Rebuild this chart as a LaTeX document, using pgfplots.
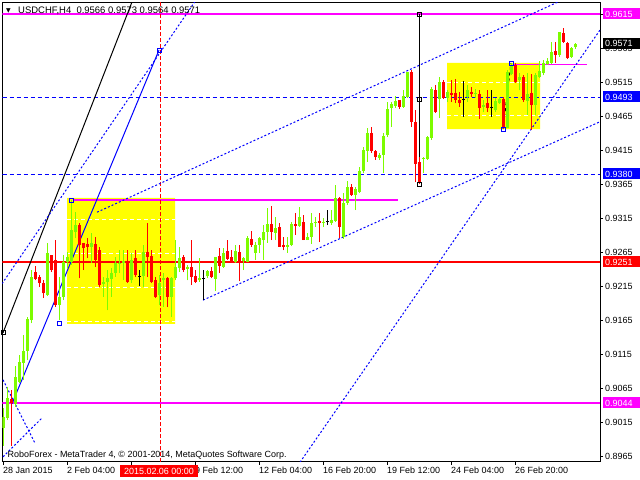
\documentclass[border=0pt]{standalone}
\usepackage{fontspec}
\setmainfont{Liberation Sans}
\newfontfamily\dejavu{DejaVu Sans}
\usepackage{pgfplots}
\usepackage{pgfplotstable}
\pgfplotsset{compat=1.18}
\definecolor{bull}{RGB}{124,252,0}
\definecolor{bear}{RGB}{255,0,0}
\definecolor{mag}{RGB}{255,0,255}
\definecolor{mtblue}{RGB}{0,0,255}
\definecolor{yel}{RGB}{255,255,0}

\pgfplotstableread{
n o h l c
0 0.9007 0.9037 0.8981 0.9023
1 0.9022 0.9067 0.9019 0.9051
3 0.9043 0.9098 0.9038 0.9082
4 0.9075 0.9115 0.9073 0.9104
5 0.9103 0.9144 0.9078 0.9120
6 0.9120 0.9170 0.9107 0.9167
7 0.9166 0.9239 0.9161 0.9229
11 0.9202 0.9279 0.9201 0.9264
14 0.9188 0.9229 0.9166 0.9200
15 0.9200 0.9261 0.9195 0.9251
16 0.9251 0.9266 0.9242 0.9258
17 0.9251 0.9342 0.9247 0.9298
18 0.9295 0.9324 0.9286 0.9305
22 0.9273 0.9294 0.9250 0.9279
25 0.9219 0.9229 0.9200 0.9222
26 0.9222 0.9239 0.9180 0.9227
27 0.9226 0.9242 0.9200 0.9235
28 0.9235 0.9258 0.9229 0.9250
29 0.9248 0.9268 0.9235 0.9250
30 0.9250 0.9268 0.9224 0.9252
32 0.9224 0.9264 0.9220 0.9254
35 0.9230 0.9276 0.9214 0.9266
39 0.9202 0.9232 0.9188 0.9220
40 0.9224 0.9235 0.9185 0.9227
42 0.9200 0.9229 0.9170 0.9227
43 0.9227 0.9283 0.9224 0.9244
44 0.9242 0.9273 0.9236 0.9257
46 0.9241 0.9247 0.9224 0.9244
49 0.9224 0.9257 0.9222 0.9227
51 0.9230 0.9239 0.9227 0.9238
53 0.9226 0.9258 0.9208 0.9258
55 0.9244 0.9271 0.9242 0.9264
58 0.9251 0.9276 0.9250 0.9267
60 0.9252 0.9258 0.9239 0.9257
61 0.9251 0.9289 0.9251 0.9286
63 0.9264 0.9280 0.9254 0.9276
64 0.9276 0.9288 0.9264 0.9286
65 0.9283 0.9305 0.9254 0.9295
66 0.9295 0.9330 0.9279 0.9307
68 0.9294 0.9317 0.9283 0.9301
71 0.9273 0.9288 0.9264 0.9276
72 0.9276 0.9310 0.9274 0.9307
74 0.9304 0.9332 0.9302 0.9317
76 0.9283 0.9294 0.9283 0.9288
77 0.9288 0.9323 0.9277 0.9308
78 0.9308 0.9317 0.9302 0.9310
80 0.9308 0.9316 0.9302 0.9310
82 0.9308 0.9327 0.9305 0.9313
83 0.9311 0.9364 0.9310 0.9345
85 0.9288 0.9352 0.9285 0.9338
86 0.9338 0.9370 0.9335 0.9361
88 0.9349 0.9361 0.9327 0.9358
89 0.9354 0.9390 0.9352 0.9385
90 0.9385 0.9420 0.9382 0.9415
91 0.9414 0.9448 0.9398 0.9440
94 0.9404 0.9411 0.9401 0.9408
95 0.9408 0.9440 0.9382 0.9436
96 0.9437 0.9486 0.9435 0.9476
97 0.9477 0.9486 0.9449 0.9483
98 0.9480 0.9495 0.9477 0.9487
100 0.9479 0.9503 0.9477 0.9495
101 0.9493 0.9530 0.9492 0.9530
105 0.9402 0.9405 0.9382 0.9404
106 0.9402 0.9436 0.9401 0.9435
107 0.9433 0.9508 0.9430 0.9505
109 0.9490 0.9523 0.9462 0.9515
111 0.9492 0.9503 0.9486 0.9500
116 0.9493 0.9511 0.9486 0.9503
118 0.9497 0.9505 0.9492 0.9499
120 0.9479 0.9489 0.9471 0.9481
123 0.9474 0.9492 0.9471 0.9487
124 0.9484 0.9493 0.9483 0.9490
126 0.9448 0.9533 0.9448 0.9530
127 0.9527 0.9543 0.9525 0.9540
129 0.9518 0.9528 0.9503 0.9523
131 0.9487 0.9528 0.9467 0.9497
133 0.9481 0.9528 0.9467 0.9525
134 0.9523 0.9546 0.9521 0.9531
135 0.9528 0.9547 0.9525 0.9543
136 0.9541 0.9550 0.9540 0.9546
137 0.9543 0.9574 0.9541 0.9559
139 0.9555 0.9589 0.9552 0.9589
142 0.9552 0.9567 0.9550 0.9565
143 0.9566 0.9573 0.9564 0.9571
}\bulltab

\pgfplotstableread{
n o h l c
2 0.9050 0.9063 0.8981 0.9044
8 0.9236 0.9245 0.9224 0.9226
9 0.9229 0.9232 0.9214 0.9220
10 0.9220 0.9224 0.9198 0.9205
12 0.9261 0.9261 0.9236 0.9239
13 0.9254 0.9283 0.9185 0.9188
19 0.9305 0.9308 0.9227 0.9276
20 0.9279 0.9279 0.9239 0.9271
21 0.9277 0.9286 0.9257 0.9273
23 0.9277 0.9288 0.9244 0.9254
24 0.9269 0.9273 0.9214 0.9217
31 0.9252 0.9268 0.9220 0.9222
33 0.9257 0.9268 0.9229 0.9232
36 0.9266 0.9308 0.9229 0.9258
37 0.9260 0.9268 0.9220 0.9222
38 0.9224 0.9229 0.9198 0.9200
41 0.9227 0.9229 0.9185 0.9200
45 0.9258 0.9261 0.9236 0.9239
47 0.9244 0.9283 0.9217 0.9229
48 0.9230 0.9239 0.9220 0.9222
52 0.9238 0.9244 0.9227 0.9229
54 0.9260 0.9271 0.9235 0.9245
56 0.9267 0.9283 0.9254 0.9255
57 0.9258 0.9268 0.9250 0.9250
59 0.9266 0.9276 0.9223 0.9251
62 0.9285 0.9296 0.9273 0.9276
67 0.9307 0.9333 0.9283 0.9295
69 0.9302 0.9308 0.9273 0.9273
70 0.9276 0.9288 0.9268 0.9273
73 0.9307 0.9323 0.9291 0.9304
75 0.9310 0.9320 0.9283 0.9283
79 0.9311 0.9323 0.9280 0.9308
84 0.9345 0.9346 0.9286 0.9302
87 0.9361 0.9365 0.9348 0.9349
92 0.9440 0.9449 0.9411 0.9414
93 0.9414 0.9415 0.9401 0.9405
99 0.9489 0.9489 0.9476 0.9479
102 0.9530 0.9533 0.9449 0.9457
103 0.9457 0.9474 0.9368 0.9395
104 0.9398 0.9405 0.9365 0.9368
108 0.9503 0.9511 0.9470 0.9471
110 0.9515 0.9518 0.9490 0.9492
112 0.9499 0.9518 0.9486 0.9496
113 0.9499 0.9520 0.9484 0.9489
114 0.9489 0.9500 0.9479 0.9484
117 0.9500 0.9508 0.9493 0.9497
119 0.9497 0.9503 0.9461 0.9477
121 0.9484 0.9503 0.9471 0.9477
125 0.9490 0.9493 0.9446 0.9448
128 0.9540 0.9543 0.9514 0.9515
130 0.9523 0.9525 0.9486 0.9489
132 0.9499 0.9527 0.9445 0.9481
138 0.9561 0.9574 0.9543 0.9555
140 0.9587 0.9594 0.9572 0.9574
141 0.9572 0.9574 0.9549 0.9550
}\beartab

\pgfplotstableread{
n o h l c
34 0.9230 0.9239 0.9216 0.9230
50 0.9227 0.9239 0.9195 0.9227
81 0.9310 0.9327 0.9305 0.9310
115 0.9489 0.9517 0.9464 0.9489
122 0.9477 0.9503 0.9464 0.9477
}\dojitab

\begin{document}
\begin{tikzpicture}
\path[use as bounding box] (0,0) rectangle (640bp,480bp);
\begin{axis}[
  at={(2.5bp,18bp)}, anchor=south west,
  width=597.5bp, height=459.5bp, scale only axis,
  xmin=-0.125, xmax=149.25, ymin=0.89574, ymax=0.96318,
  clip mode=individual,
  axis line style={black, line width=1bp},
  xtick pos=left, ytick pos=right, yticklabel pos=right,
  tick align=outside, major tick length=3bp,
  tick style={black, line width=0.8bp},
  xtick={0,16,32,48,64,80,96,112,128},
  xticklabels={28 Jan 2015, 2 Feb 04:00, {}, 9 Feb 12:00, 12 Feb 04:00, 16 Feb 20:00, 19 Feb 12:00, 24 Feb 04:00, 26 Feb 20:00},
  ytick={0.8965,0.9015,0.9065,0.9115,0.9165,0.9215,0.9265,0.9315,0.9365,0.9415,0.9465,0.9515,0.9565,0.9615},
  yticklabels={0.8965,0.9015,0.9065,0.9115,0.9165,0.9215,0.9265,0.9315,0.9365,0.9415,0.9465,0.9515,0.9565,0.9615},
  xticklabel style={anchor=north west, inner sep=0pt, yshift=-2bp, font=\fontsize{9}{10}\selectfont},
  yticklabel style={anchor=west, inner sep=0pt, xshift=2bp, font=\fontsize{9}{10}\selectfont},
  wick/.style={quiver={u=0, v=\thisrow{h}-\thisrow{l}, every arrow/.append style={line width=1bp, line cap=butt}}},
]
% yellow rectangles
\addplot[fill=yel, draw=none] coordinates {(16,0.9345) (43,0.9345) (43,0.9160) (16,0.9160) (16,0.9345)};
\addplot[fill=yel, draw=none] coordinates {(111,0.9543) (134.25,0.9543) (134.25,0.9446) (111,0.9446) (111,0.9543)};
% white dashed levels inside rectangles
\foreach \lv in {0.9314,0.9264,0.9214,0.9163} {
  \addplot[white, line width=1bp, dash pattern=on 4bp off 3bp] coordinates {(16,\lv) (43,\lv)};
}
\foreach \lv in {0.9515,0.9466} {
  \addplot[white, line width=1bp, dash pattern=on 4bp off 3bp] coordinates {(111,\lv) (134.25,\lv)};
}
% horizontal levels
\addplot[mag, line width=2bp] coordinates {(-0.125,0.9615) (149.25,0.9615)};
\addplot[mag, line width=2bp] coordinates {(-0.125,0.9044) (149.25,0.9044)};
\addplot[bear, line width=1.2bp] coordinates {(-0.125,0.9251) (149.25,0.9251)};
\addplot[mtblue, line width=1bp, dash pattern=on 4bp off 3bp] coordinates {(-0.125,0.9493) (149.25,0.9493)};
\addplot[mtblue, line width=1bp, dash pattern=on 4bp off 3bp] coordinates {(-0.125,0.9380) (149.25,0.9380)};
\addplot[mag, line width=1.2bp] coordinates {(17.5,0.9342) (98.75,0.9342)};
\addplot[mag, line width=1.2bp] coordinates {(127.5,0.9541) (146,0.9541)};
% vertical red dashed
\addplot[bear, line width=1bp, dash pattern=on 4bp off 2bp] coordinates {(39.25,0.89574) (39.25,0.96318)};
% trend lines
\addplot[black, line width=1bp] coordinates {(0,0.9147) (35,0.9674)};
\addplot[mtblue, line width=1bp] coordinates {(2.25,0.9043) (39,0.9562)};
\addplot[mtblue, line width=1bp, dash pattern=on 2bp off 2bp] coordinates {(-0.25,0.9219) (49.25,0.9644)};
\addplot[mtblue, line width=1bp, dash pattern=on 2bp off 2bp] coordinates {(50,0.9195) (154.25,0.9470)};
\addplot[mtblue, line width=1bp, dash pattern=on 2bp off 2bp] coordinates {(23.5,0.9324) (154.25,0.9674)};
\addplot[mtblue, line width=1bp, dash pattern=on 2bp off 2bp] coordinates {(74.25,0.8957) (159.25,0.9676)};
\addplot[mtblue, line width=1bp, dash pattern=on 2bp off 2bp] coordinates {(0,0.9078) (8,0.8985)};
\addplot[mtblue, line width=1bp, dash pattern=on 2bp off 2bp] coordinates {(0,0.8965) (9.75,0.9022)};
\addplot[black, line width=1bp] coordinates {(104,0.9615) (104,0.9365)};
\addplot[black, line width=1bp, dash pattern=on 3bp off 3bp] coordinates {(125,0.9446) (127,0.9543)};
% candles: wicks (low to high)
\addplot[bull, wick] table[x=n, y=l] {\bulltab};
\addplot[bear, wick] table[x=n, y=l] {\beartab};
\addplot[black, wick] table[x=n, y=l] {\dojitab};
% candles: bodies (open to close)
\addplot[bull, quiver={u=0, v={max(\thisrow{c}-\thisrow{o},0.00014)}, every arrow/.append style={line width=3bp, line cap=butt}}] table[x=n, y=o] {\bulltab};
\addplot[bear, quiver={u=0, v={max(\thisrow{o}-\thisrow{c},0.00014)}, every arrow/.append style={line width=3bp, line cap=butt}}] table[x=n, y=c] {\beartab};
\addplot[only marks, black, mark=-, mark size=1.5bp, mark options={line width=1bp}] table[x=n, y=c] {\dojitab};
% anchor squares
\addplot[only marks, mtblue, mark=square, mark size=2bp, mark options={line width=0.8bp}] coordinates {(14,0.9161) (17,0.9342) (39,0.9562) (125,0.9446) (127,0.9543)};
\addplot[only marks, black, mark=square, mark size=2bp, mark options={line width=0.8bp}] coordinates {(0,0.9147) (104,0.9615) (104,0.9490) (104,0.9365)};
\end{axis}
% title
\node[anchor=west, inner sep=0pt] at (6bp,469bp) {\dejavu\fontsize{6}{6}\selectfont ▼};
\node[anchor=west, inner sep=0pt, font=\fontsize{9.5}{10}\selectfont] at (18bp,469bp) {USDCHF,H4\ \ 0.9566 0.9573 0.9564 0.9571};
% copyright
\node[anchor=west, inner sep=0pt, font=\fontsize{9}{10}\selectfont] at (7.5bp,25bp) {RoboForex - MetaTrader 4, © 2001-2014, MetaQuotes Software Corp.};
% right price boxes
\foreach \yy/\col/\txt in {466/mag/0.9615, 436.5/black/0.9571, 383/mtblue/0.9493, 306/mtblue/0.9380, 218/bear/0.9251, 77/mag/0.9044} {
  \fill[\col] (602.5bp,\yy bp-5.5bp) rectangle (640bp,\yy bp+5.5bp);
  \node[anchor=west, inner sep=0pt, text=white, font=\fontsize{9}{10}\selectfont] at (605bp,\yy bp) {\txt};
}
% date box
\fill[bear] (119.5bp,2.5bp) rectangle (198bp,14.5bp);
\node[inner sep=0pt, text=white, font=\fontsize{9}{10}\selectfont] at (159bp,8.5bp) {2015.02.06 00:00};
\end{tikzpicture}
\end{document}
